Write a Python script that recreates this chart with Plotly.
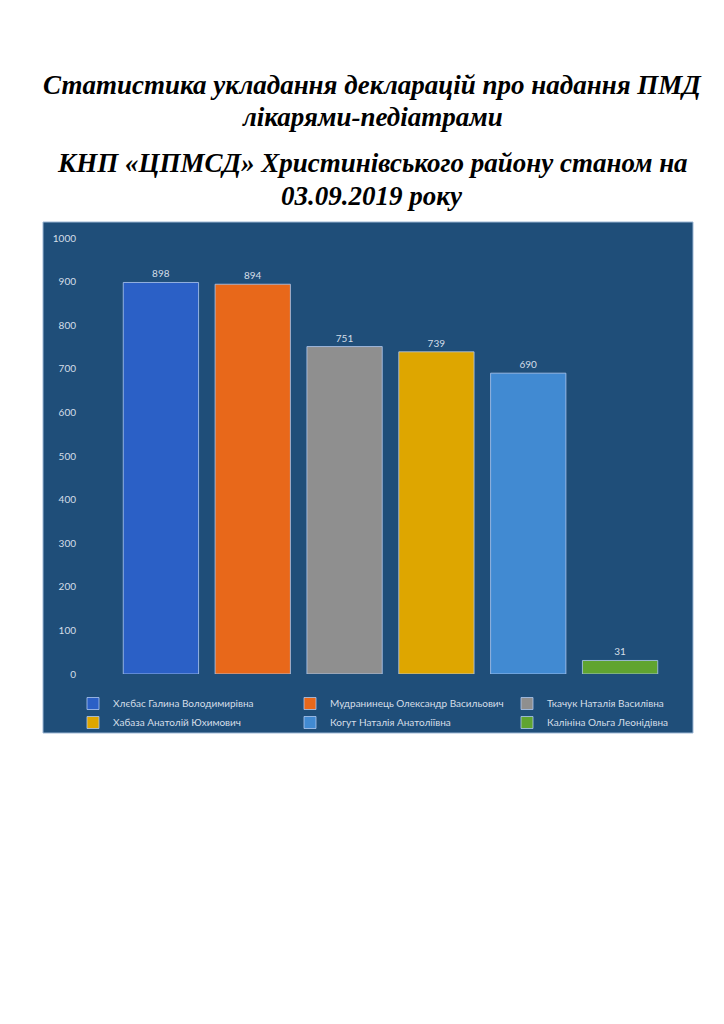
import plotly.graph_objects as go

doctors = [
    "Хлєбас Галина Володимирівна",
    "Мудранинець Олександр Васильович",
    "Ткачук Наталія Василівна",
    "Хабаза Анатолій Юхимович",
    "Когут Наталія Анатоліївна",
    "Калініна Ольга Леонідівна",
]
declarations = [898, 894, 751, 739, 690, 31]
bar_colors = ["#2B60C6", "#E8681A", "#8F8F8F", "#DEA600", "#418AD2", "#60A430"]

title_lines = [
    "Статистика укладання декларацій про надання ПМД",
    "лікарями-педіатрами",
    "КНП «ЦПМСД» Христинівського району станом на",
    "03.09.2019 року",
]
title_y_px = [85, 117, 163, 196]

BG = "#1F4E79"
TXT = "#D5DEE8"

# page body has an 8px margin, so the figure is sized to fit inside it
W, H = 716, 1016
L, T, B, R = 107, 230, 350, 58
plot_h = H - T - B
plot_w = W - L - R


def px_to_paper_y(py):
    return (H - B - (py - 8)) / plot_h


def px_to_paper_x(px):
    return (px - 8 - L) / plot_w


fig = go.Figure()
for name, val, col in zip(doctors, declarations, bar_colors):
    fig.add_trace(go.Bar(
        x=[name], y=[val], name=name,
        marker=dict(color=col, line=dict(color="rgba(175,200,240,0.8)", width=1)),
        text=[val], textposition="outside", cliponaxis=False,
        textfont=dict(family="Lato", size=10, color=TXT),
    ))

# chart panel behind the plot area
fig.add_shape(type="rect", xref="paper", yref="paper",
              x0=px_to_paper_x(43), x1=px_to_paper_x(693),
              y0=px_to_paper_y(733), y1=px_to_paper_y(222),
              fillcolor=BG, line=dict(color="#9DB7D5", width=1), layer="below")

for line, py in zip(title_lines, title_y_px):
    fig.add_annotation(text=f"<b><i>{line}</i></b>", xref="paper", yref="paper",
                       x=px_to_paper_x(372), y=px_to_paper_y(py),
                       xanchor="center", yanchor="middle", showarrow=False,
                       font=dict(family="Liberation Serif", size=27, color="black"))

fig.update_layout(
    width=W, height=H,
    margin=dict(l=L, r=R, t=T, b=B),
    paper_bgcolor="white", plot_bgcolor="rgba(0,0,0,0)",
    barmode="overlay", bargap=0.18,
    showlegend=True,
    legend=dict(orientation="h", x=px_to_paper_x(80), xanchor="left",
                y=px_to_paper_y(689), yanchor="top",
                font=dict(family="Lato", size=10, color=TXT),
                bgcolor="rgba(0,0,0,0)", entrywidth=172, itemwidth=30),
    xaxis=dict(showticklabels=False, showgrid=False, zeroline=False, showline=False),
    yaxis=dict(range=[0, 1000], dtick=100, showgrid=False, zeroline=False, showline=False,
               tickfont=dict(family="Lato", size=10, color=TXT), ticks="",
               ticklabelstandoff=38),
)

fig.write_html("out.html")
